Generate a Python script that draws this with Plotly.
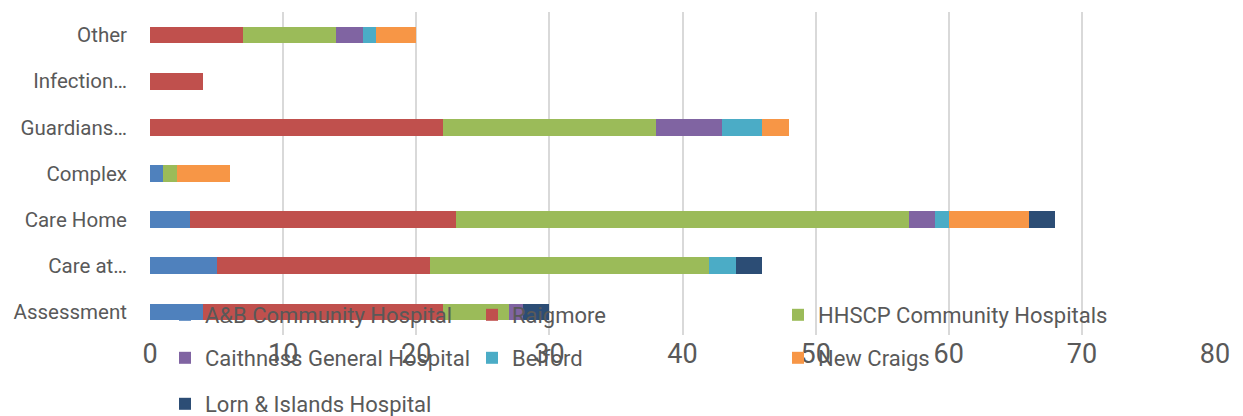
import plotly.graph_objects as go

categories = ["Assessment", "Care at…", "Care Home", "Complex", "Guardians…", "Infection…", "Other"]

series_names = ["A&B Community Hospital", "Raigmore", "HHSCP Community Hospitals",
                "Caithness General Hospital", "Belford", "New Craigs", "Lorn & Islands Hospital"]

ab_community = [4, 5, 3, 1, 0, 0, 0]
raigmore = [18, 16, 20, 0, 22, 4, 7]
hhscp_community = [5, 21, 34, 1, 16, 0, 7]
caithness = [1, 0, 2, 0, 5, 0, 2]
belford = [0, 2, 1, 0, 3, 0, 1]
new_craigs = [0, 0, 6, 4, 2, 0, 3]
lorn_islands = [2, 2, 2, 0, 0, 0, 0]

colors = ["#4F81BD", "#C0504D", "#9BBB59", "#8064A2", "#4BACC6", "#F79646", "#2C4D75"]
values = [ab_community, raigmore, hhscp_community, caithness, belford, new_craigs, lorn_islands]

FONT = "Roboto, sans-serif"
GREY = "#595959"
W, H = 1243, 416

# legend grid: 3 columns, 3 rows (pixel positions of each entry)
legend_cols = [165, 472, 778]
legend_rows = [315, 358, 404]

fig = go.Figure()
legend_layout = {}
for i, (name, vals, col) in enumerate(zip(series_names, values, colors)):
    lid = "legend" if i == 0 else f"legend{i + 1}"
    fig.add_trace(go.Bar(
        y=categories, x=vals, name=name, orientation="h",
        marker=dict(color=col, line=dict(width=0)),
        legend=lid,
    ))
    r, c = divmod(i, 3)
    legend_layout[lid] = dict(
        x=legend_cols[c] / W, y=1 - legend_rows[r] / H,
        xref="container", yref="container",
        xanchor="left", yanchor="middle", orientation="h",
        font=dict(family=FONT, size=22, color=GREY),
        bgcolor="rgba(0,0,0,0)",
        itemclick=False, itemdoubleclick=False,
    )

fig.update_layout(
    width=W, height=H,
    margin=dict(l=150, r=28, t=12, b=81, autoexpand=False),
    paper_bgcolor="white", plot_bgcolor="white",
    barmode="stack", bargap=0.635,
    font=dict(family=FONT, color=GREY),
    showlegend=True,
    xaxis=dict(range=[0, 80], dtick=10, showgrid=True, gridcolor="#D9D9D9", gridwidth=1.5,
               zeroline=False, showline=False,
               tickfont=dict(family=FONT, size=27, color=GREY)),
    yaxis=dict(showgrid=False, zeroline=False, showline=False, ticklabelstandoff=22,
               tickfont=dict(family=FONT, size=20.5, color=GREY)),
    **legend_layout,
)

fig.write_html("out.html")
